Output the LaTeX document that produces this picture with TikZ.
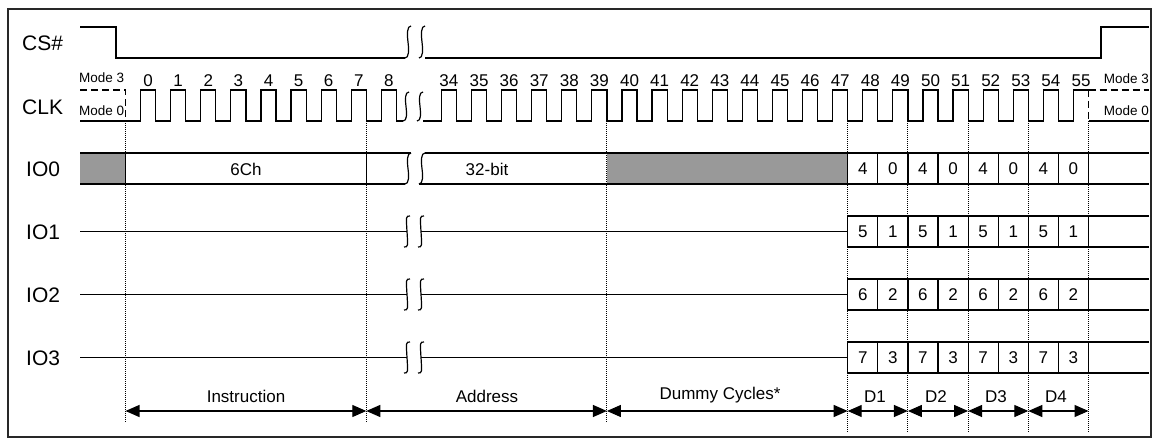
\documentclass[tikz,border=0pt]{standalone}
\usepackage{fontspec}
\setmainfont{Liberation Sans}
\usetikzlibrary{arrows.meta}
\definecolor{fillgrey}{RGB}{153,153,153}
\definecolor{framecol}{RGB}{40,40,40}
\newcommand\brkmark[3]{%
  \draw[sig] ({#1+3},#2) .. controls ({#1-1},#2) and ({#1-1},{#2+0.25*(#3-#2)}) .. ({#1},{0.5*(#2+#3)})
     .. controls ({#1+1},{#3-0.25*(#3-#2)}) and ({#1+1},#3) .. ({#1-3},#3);}
\begin{document}
\begin{tikzpicture}[x=1pt,y=-1pt,
  sig/.style={line width=1.2pt, black},
  longdash/.style={dash pattern=on 7pt off 4pt},
  vdot/.style={line width=1pt, densely dotted, black},
  lbl/.style={font=\fontsize{21}{24}\selectfont, anchor=west, inner sep=0pt},
  num/.style={font=\fontsize{17}{20}\selectfont, inner sep=0pt},
  modetxt/.style={font=\fontsize{13.5}{16}\selectfont, inner sep=0pt},
  cell/.style={font=\fontsize{17}{20}\selectfont, inner sep=0pt},
  spantxt/.style={font=\fontsize{17}{20}\selectfont, inner sep=0pt},
  span/.style={line width=1.2pt, {Triangle[length=14pt,width=12pt]}-{Triangle[length=14pt,width=12pt]}}]
\useasboundingbox (0,0) rectangle (1161,446);
\fill[white] (0,0) rectangle (1161,446);
\draw[line width=1.3pt, framecol] (8,9) rectangle (1151,437);

% ---------- labels
\node[lbl] (lcs)  at (22,43)  {CS\#};
\node[lbl] (lclk) at (22,107) {CLK};
\node[lbl] (lio0) at (26,169) {IO0};
\node[lbl] (lio1) at (26,232) {IO1};
\node[lbl] (lio2) at (26,295) {IO2};
\node[lbl] (lio3) at (26,358) {IO3};

% ---------- CS#
\draw[sig] (80,27) -- (116,27) -- (116,58) -- (405,58);
\brkmark{408}{26}{58}
\brkmark{422}{26}{58}
\draw[sig] (425,58) -- (1101,58) -- (1101,27) -- (1149,27);

% ---------- CLK
\draw[sig, longdash] (80,90) -- (125.5,90) -- (125.5,121);
\draw[sig] (80,121) -- (125.5,121)
  \foreach \k in {0,...,8} {
    -- ({125.5+30.1*\k+15.05},121) -- ({125.5+30.1*\k+15.05},90)
    -- ({125.5+30.1*(\k+1)},90) -- ({125.5+30.1*(\k+1)},121) }
  -- (403,121);
\brkmark{406}{92}{121}
\brkmark{420}{92}{121}
\draw[sig] (423,121) -- (426.3,121)
  \foreach \k in {0,...,20} {
    -- ({426.3+30.1*\k+15.05},121) -- ({426.3+30.1*\k+15.05},90)
    -- ({426.3+30.1*(\k+1)},90) -- ({426.3+30.1*(\k+1)},121) }
  -- (1073.45,121) -- (1073.45,90) -- (1088.5,90);
\draw[sig, longdash] (1088.5,90) -- (1088.5,121);
\draw[sig, longdash] (1088.5,90) -- (1149,90);
\draw[sig] (1088.5,121) -- (1149,121);
\node[modetxt, anchor=west] (m3l) at (79,78) {Mode 3};
\node[modetxt, anchor=west] (m0l) at (79,111) {Mode 0};
\node[modetxt, anchor=east] (m3r) at (1149,79) {Mode 3};
\node[modetxt, anchor=east] (m0r) at (1149,111) {Mode 0};
\foreach \k in {0,...,8}
  \node[num] (n\k) at ({125.5+30.1*\k+22.6},81) {\k};
\foreach \k in {34,...,55}
  \node[num] (n\k) at ({426.3+30.1*(\k-34)+22.6},81) {\k};

% ---------- IO0
\fill[fillgrey] (80,153) rectangle (125.5,184);
\fill[fillgrey] (606.9,153) rectangle (847.7,184);
\draw[sig] (80,153) -- (411,153);
\draw[sig] (80,184) -- (405,184);
\draw[sig] (125.5,153) -- (125.5,184);
\draw[sig] (366.3,153) -- (366.3,184);
\brkmark{408}{153}{184}
\brkmark{422}{153}{184}
\draw[sig] (425,153) -- (1149,153);
\draw[sig] (419,184) -- (1149,184);
\foreach \j in {0,...,8}
  \draw[sig] ({847.7+30.1*\j},153) -- ({847.7+30.1*\j},184);
\node[cell] (t6ch) at (246,169) {6Ch};
\node[cell] (t32b) at (487,169) {32-bit};

% ---------- IO1..IO3
\foreach \r/\m in {1/231.5, 2/294.5, 3/357.5} {
  \draw[sig] (80,\m) -- (407,\m);
  \draw[sig] (421,\m) -- (847.7,\m);
  \brkmark{407}{\m-15.5}{\m+15.5}
  \brkmark{421}{\m-15.5}{\m+15.5}
  \draw[sig] (1149,\m-15.5) -- (847.7,\m-15.5) -- (847.7,\m+15.5) -- (1149,\m+15.5);
  \foreach \j in {1,...,8}
    \draw[sig] ({847.7+30.1*\j},\m-15.5) -- ({847.7+30.1*\j},\m+15.5);
}
\foreach \j in {0,2,4,6} {
  \node[cell] at ({847.7+30.1*(\j+0.5)},169) {4};
  \node[cell] at ({847.7+30.1*(\j+1.5)},169) {0};
  \node[cell] at ({847.7+30.1*(\j+0.5)},232) {5};
  \node[cell] at ({847.7+30.1*(\j+1.5)},232) {1};
  \node[cell] at ({847.7+30.1*(\j+0.5)},295) {6};
  \node[cell] at ({847.7+30.1*(\j+1.5)},295) {2};
  \node[cell] at ({847.7+30.1*(\j+0.5)},358) {7};
  \node[cell] at ({847.7+30.1*(\j+1.5)},358) {3};
}

% ---------- dotted verticals and spans
\foreach \i/\x/\yb in {0/125.5/422, 1/366.3/422, 2/606.9/422, 3/847.7/432, 4/907.9/432, 5/968.1/432, 6/1028.3/432, 7/1088.5/432} {
  \coordinate (top\i) at (\x,121);
  \coordinate (bot\i) at (\x,\yb);
  \coordinate (a\i) at (\x,411);
  \draw[vdot] (top\i) -- (bot\i);
}
\draw[span] (a0) -- (a1);
\draw[span] (a1) -- (a2);
\draw[span] (a2) -- (a3);
\draw[span] (a3) -- (a4);
\draw[span] (a4) -- (a5);
\draw[span] (a5) -- (a6);
\draw[span] (a6) -- (a7);
\node[spantxt] (sins) at (246,396) {Instruction};
\node[spantxt] (sadr) at (487,396) {Address};
\node[spantxt] (sdum) at (720,395) {Dummy Cycles*};
\node[spantxt] (sd1) at (875,397) {D1};
\node[spantxt] (sd2) at (936,397) {D2};
\node[spantxt] (sd3) at (996,397) {D3};
\node[spantxt] (sd4) at (1056,397) {D4};
\end{tikzpicture}
\end{document}
